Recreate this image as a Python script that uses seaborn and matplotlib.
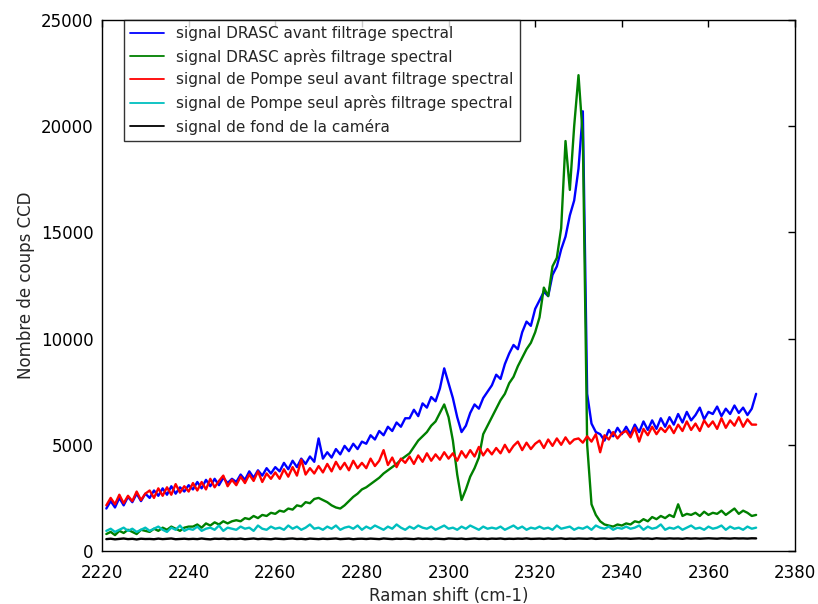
import numpy as np
import pandas as pd
import matplotlib
matplotlib.use("Agg")
import matplotlib.pyplot as plt
import seaborn as sns

# -------------------- DATA --------------------
# Raman shift axis, one point per cm-1
raman_shift = np.arange(2221, 2372)

drasc_avant = [
    2000, 2350, 2050, 2500, 2150, 2550, 2300, 2700, 2350, 2700,
    2500, 2850, 2600, 2950, 2650, 3050, 2700, 3000, 2800, 3100,
    2900, 3250, 2950, 3350, 3050, 3400, 3100, 3450, 3200, 3400,
    3250, 3600, 3350, 3750, 3450, 3800, 3550, 3900, 3650, 3950,
    3750, 4150, 3850, 4250, 3950, 4350, 4100, 4450, 4200, 5300,
    4350, 4650, 4400, 4800, 4550, 4950, 4700, 5050, 4800, 5150,
    5050, 5450, 5250, 5650, 5450, 5850, 5650, 6050, 5850, 6250,
    6250, 6650, 6350, 6950, 6750, 7250, 7050, 7650, 8600, 7900,
    7200, 6300, 5600, 5900, 6500, 6900, 6700, 7200, 7500, 7800,
    8300, 8100, 8800, 9300, 9700, 9500, 10300, 10800, 10600, 11400,
    11800, 12200, 12000, 13000, 13400, 14200, 14800, 15800, 16500, 18000,
    20700, 7400, 6000, 5600, 5500, 5200, 5700, 5400, 5800, 5500,
    5850, 5500, 5950, 5600, 6100, 5700, 6150, 5750, 6250, 5850,
    6300, 5950, 6450, 6050, 6550, 6150, 6400, 6750, 6200, 6550,
    6450, 6800, 6350, 6700, 6450, 6850, 6500, 6750, 6400, 6700,
    7400,
]

drasc_apres = [
    800, 900, 750, 950, 850, 1000, 900, 800, 1000, 950,
    900, 1050, 950, 1100, 1000, 1150, 1050, 950, 1100, 1150,
    1150, 1250, 1100, 1300, 1200, 1350, 1250, 1400, 1300, 1400,
    1450, 1400, 1550, 1500, 1650, 1550, 1700, 1650, 1800, 1750,
    1900, 1850, 2000, 1950, 2150, 2100, 2300, 2250, 2450, 2500,
    2400, 2300, 2150, 2050, 2000, 2150, 2350, 2550, 2700, 2900,
    3000, 3150, 3300, 3450, 3650, 3800, 3950, 4100, 4300, 4450,
    4600, 4900, 5200, 5400, 5600, 5900, 6100, 6500, 6900, 6300,
    5200, 3600, 2400, 2900, 3500, 3900, 4400, 5500, 5900, 6300,
    6700, 7100, 7400, 7900, 8200, 8700, 9100, 9500, 9800, 10300,
    11000, 12400, 12000, 13400, 13800, 15200, 19300, 17000, 20000, 22400,
    19500, 5000, 2200, 1700, 1400, 1250, 1200, 1150, 1250, 1200,
    1300, 1250, 1400, 1350, 1500, 1400, 1600, 1500, 1650, 1550,
    1700, 1600, 2200, 1650, 1750, 1700, 1800, 1650, 1850, 1700,
    1800, 1750, 1900, 1700, 1850, 2000, 1750, 1900, 1800, 1650,
    1700,
]

pompe_avant = [
    2150, 2500, 2200, 2650, 2250, 2600, 2350, 2800, 2400, 2700,
    2850, 2500, 2950, 2600, 3000, 2650, 3150, 2750, 3050, 2800,
    3200, 2850, 3250, 2900, 3400, 3000, 3300, 3550, 3050, 3350,
    3100, 3500, 3200, 3600, 3300, 3750, 3250, 3650, 3400, 3700,
    3400, 3850, 3500, 3950, 3550, 4300, 3600, 3900, 3650, 4000,
    3700, 4100, 3750, 4200, 3850, 4150, 3800, 4250, 3900, 4150,
    3900, 4350, 4000, 4250, 4750, 4050, 4400, 3950, 4350, 4150,
    4450, 4100, 4500, 4200, 4600, 4250, 4550, 4300, 4650, 4350,
    4600, 4250, 4700, 4400, 4750, 4450, 4900, 4500, 4800, 4550,
    4850, 4600, 5000, 4650, 4950, 5150, 4750, 5100, 4800, 5050,
    5200, 4850, 5250, 4950, 5300, 5000, 5350, 5050, 5250, 5300,
    5100, 5400, 5150, 5500, 4650, 5450, 5250, 5600, 5300, 5550,
    5650, 5350, 5800, 5150, 5750, 5450, 5850, 5500, 5800, 5600,
    5900, 5550, 5950, 5650, 6100, 5700, 6000, 5650, 6150, 5850,
    6100, 5750, 6250, 5800, 6150, 5900, 6300, 5850, 6200, 5950,
    5950,
]

pompe_apres = [
    950, 1050, 900, 1000, 1100, 950, 1050, 900, 1000, 1100,
    950, 1050, 1150, 1000, 900, 1100, 1000, 1200, 950, 1050,
    1000, 1150, 950, 1050, 1100, 1000, 1200, 950, 1100, 1050,
    1000, 1150, 1050, 1100, 950, 1200, 1050, 1000, 1150, 1050,
    1100, 1000, 1200, 1050, 1150, 1000, 1100, 1250, 1050, 1100,
    1000, 1150, 1050, 1200, 1000, 1100, 1150, 1050, 1200, 1000,
    1150, 1050, 1200, 1100, 1000, 1150, 1050, 1250, 1100, 1000,
    1150, 1050, 1200, 1100, 1050, 1150, 1000, 1100, 1200, 1050,
    1100, 1000, 1150, 1050, 1200, 1100, 1000, 1150, 1050, 1100,
    1050, 1150, 1000, 1100, 1200, 1050, 1150, 1000, 1100, 1050,
    1150, 1050, 1100, 1000, 1200, 1050, 1100, 1150, 1000, 1100,
    1050, 1150, 1000, 1200, 1100, 1050, 1150, 1000, 1100, 1050,
    1150, 1050, 1100, 1200, 1000, 1150, 1050, 1100, 1250, 1000,
    1100, 1050, 1150, 1000, 1100, 1200, 1050, 1100, 1000, 1150,
    1050, 1100, 1200, 1000, 1150, 1050, 1100, 1000, 1150, 1050,
    1100,
]

fond_camera = [
    560, 580, 550, 570, 590, 560, 575, 545, 580, 565,
    570, 555, 585, 560, 575, 590, 555, 570, 580, 560,
    575, 560, 590, 565, 550, 580, 570, 585, 560, 575,
    565, 585, 555, 575, 590, 560, 580, 570, 555, 585,
    570, 560, 580, 590, 565, 575, 555, 585, 570, 560,
    580, 565, 575, 590, 560, 570, 585, 555, 575, 580,
    565, 585, 570, 560, 590, 575, 560, 580, 570, 585,
    575, 560, 590, 570, 580, 565, 585, 575, 560, 590,
    580, 570, 585, 560, 575, 590, 570, 580, 565, 585,
    575, 590, 565, 580, 570, 585, 575, 595, 570, 580,
    585, 570, 590, 575, 580, 595, 570, 585, 575, 590,
    580, 575, 595, 570, 585, 590, 575, 580, 595, 585,
    590, 575, 585, 595, 580, 590, 570, 600, 585, 580,
    595, 585, 590, 575, 600, 585, 595, 580, 590, 600,
    590, 580, 600, 595, 585, 600, 590, 595, 585, 600,
    595,
]

series = [
    ("signal DRASC avant filtrage spectral", drasc_avant, "#0000ff"),
    ("signal DRASC après filtrage spectral", drasc_apres, "#008000"),
    ("signal de Pompe seul avant filtrage spectral", pompe_avant, "#ff0000"),
    ("signal de Pompe seul après filtrage spectral", pompe_apres, "#00bfbf"),
    ("signal de fond de la caméra", fond_camera, "#000000"),
]

# -------------------- STYLE --------------------
sns.set_theme(style="white")
plt.rcParams["font.family"] = ["DejaVu Sans"]
plt.rcParams["xtick.direction"] = "in"
plt.rcParams["ytick.direction"] = "in"
plt.rcParams["xtick.top"] = True
plt.rcParams["ytick.right"] = True
plt.rcParams["xtick.major.size"] = 5
plt.rcParams["ytick.major.size"] = 5

fig = plt.figure(figsize=(8.18, 6.04), dpi=100, facecolor="white")
ax = fig.add_axes([0.1247, 0.0877, 0.8473, 0.8793])

for label, values, color in series:
    df = pd.DataFrame({"shift": raman_shift, "counts": values})
    sns.lineplot(data=df, x="shift", y="counts", color=color, label=label,
                 lw=1.7, estimator=None, sort=False, ax=ax)

ax.set_xlim(2220, 2380)
ax.set_ylim(0, 25000)
ax.set_xticks(range(2220, 2381, 20))
ax.set_yticks(range(0, 25001, 5000))
ax.tick_params(labelsize=12, colors="black", width=1)
ax.tick_params(axis="x", pad=9)
ax.tick_params(axis="y", pad=6)
ax.set_xlabel("Raman shift (cm-1)", fontsize=12, labelpad=4)
ax.set_ylabel("Nombre de coups CCD", fontsize=12)
for sp in ax.spines.values():
    sp.set_color("black")
    sp.set_linewidth(1)

leg = ax.legend(loc="upper left", bbox_to_anchor=(0.032, 1.0), borderaxespad=0,
                fontsize=11, fancybox=False, frameon=True, handlelength=2.2,
                labelspacing=0.5)
leg.get_frame().set_edgecolor("black")
leg.get_frame().set_linewidth(1)
for line in leg.get_lines():
    line.set_linewidth(1.3)

plt.savefig("out.png", dpi=100, facecolor="white")
plt.close()
